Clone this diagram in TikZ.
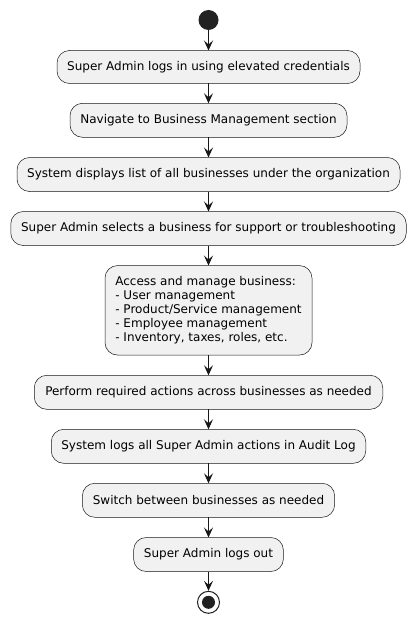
\documentclass[tikz,border=0pt]{standalone}
\usepackage{fontspec}
\setmainfont{DejaVu Sans}
\usetikzlibrary{arrows.meta}
\definecolor{boxfill}{HTML}{F1F1F1}
\definecolor{boxline}{HTML}{181818}
\definecolor{dotfill}{HTML}{222222}
\begin{document}
\begin{tikzpicture}[x=1pt,y=-1pt,
  actbox/.style={draw=boxline,line width=0.5pt,fill=boxfill,rounded corners=12.5pt,
    inner sep=0pt,outer sep=0pt,font=\fontsize{12pt}{14.1pt}\selectfont,align=center,text=black},
  flow/.style={draw=boxline,line width=1pt,-{Stealth[length=10pt,width=9pt,inset=4pt]}}]
\useasboundingbox (0,0) rectangle (416,623);
\node[circle,fill=dotfill,minimum size=20pt,inner sep=0pt] (start) at (208.5,20) {};
\node[actbox,minimum width=303pt,minimum height=33pt] (a1) at (208.5,67) {Super Admin logs in using elevated credentials};
\node[actbox,minimum width=277pt,minimum height=34pt] (a2) at (208.5,120.3) {Navigate to Business Management section};
\node[actbox,minimum width=383pt,minimum height=34pt] (a3) at (208.5,174.5) {System displays list of all businesses under the organization};
\node[actbox,minimum width=395.5pt,minimum height=34pt] (a4) at (208.5,228.5) {Super Admin selects a business for support or troubleshooting};
\node[actbox,minimum width=207pt,minimum height=89.5pt,align=left] (a5) at (208.5,310.3) {Access and manage business:\\- User management\\- Product/Service management\\- Employee management\\- Inventory, taxes, roles, etc.};
\node[actbox,minimum width=348.5pt,minimum height=34pt] (a6) at (208.5,392.3) {Perform required actions across businesses as needed};
\node[actbox,minimum width=314.5pt,minimum height=34pt] (a7) at (208.5,446.3) {System logs all Super Admin actions in Audit Log};
\node[actbox,minimum width=252.3pt,minimum height=34pt] (a8) at (208.5,500.3) {Switch between businesses as needed};
\node[actbox,minimum width=149.7pt,minimum height=34pt] (a9) at (208.5,554.5) {Super Admin logs out};
\node[circle,draw=dotfill,line width=1pt,fill=white,minimum size=22pt,inner sep=0pt] (stop) at (208.5,602.3) {};
\fill[dotfill] (stop.center) circle (6.5pt);
\draw[flow] (start) -- (a1);
\draw[flow] (a1) -- (a2);
\draw[flow] (a2) -- (a3);
\draw[flow] (a3) -- (a4);
\draw[flow] (a4) -- (a5);
\draw[flow] (a5) -- (a6);
\draw[flow] (a6) -- (a7);
\draw[flow] (a7) -- (a8);
\draw[flow] (a8) -- (a9);
\draw[flow] (a9) -- (stop);
\end{tikzpicture}
\end{document}
